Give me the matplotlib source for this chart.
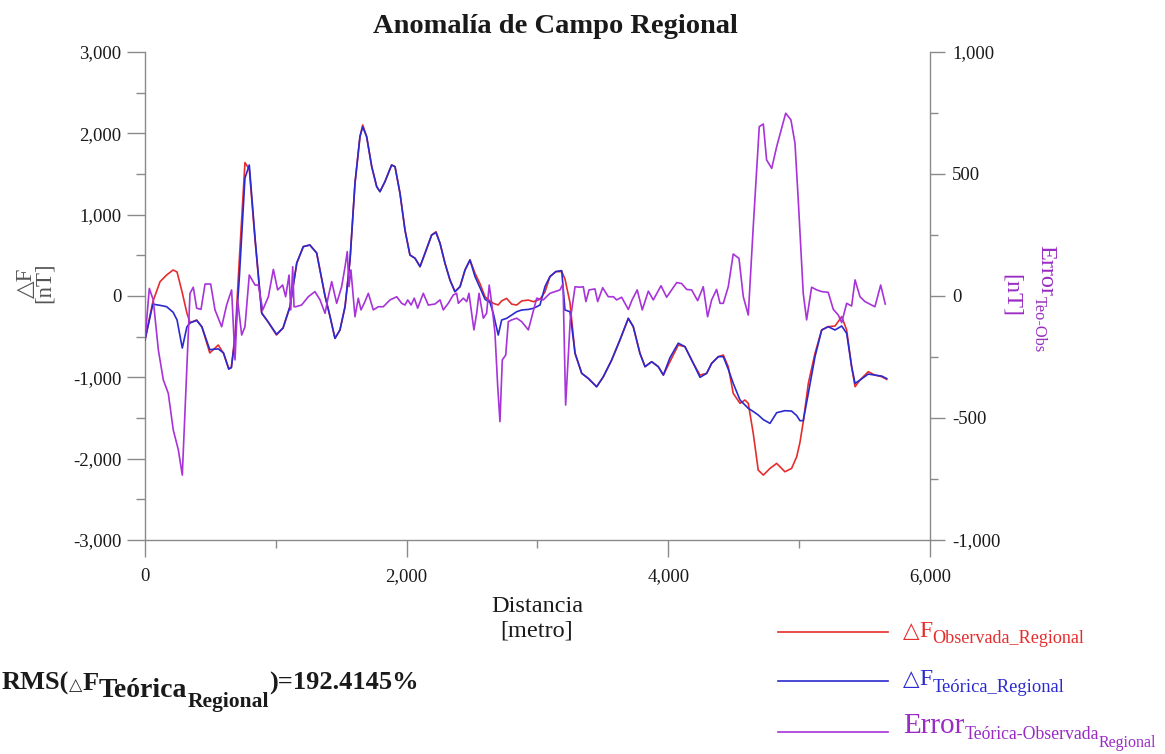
import matplotlib
matplotlib.use("Agg")
import matplotlib.pyplot as plt
from matplotlib.lines import Line2D
from matplotlib.ticker import MultipleLocator, FuncFormatter

plt.rcParams["font.family"] = ["Liberation Serif", "DejaVu Sans"]

# ---------------- data ----------------
# distance along the profile [m] for the two field curves
dist = [0, 60, 115, 165, 215, 245, 285, 320, 345, 395, 435, 495, 560, 600, 640, 660,
        690, 720, 764, 797, 841, 892, 940, 1005, 1055, 1108, 1160, 1210, 1260, 1312,
        1376, 1414, 1452, 1490, 1529, 1567, 1605, 1643, 1664, 1694, 1733, 1771, 1796,
        1834, 1885, 1911, 1949, 1987, 2025, 2064, 2102, 2140, 2191, 2224, 2255, 2293,
        2331, 2369, 2408, 2446, 2484, 2522, 2561, 2599, 2637, 2662, 2700, 2726, 2764,
        2803, 2841, 2880, 2930, 2970, 3019, 3057, 3095, 3140, 3185, 3210, 3248, 3287,
        3338, 3388, 3452, 3503, 3567, 3630, 3694, 3732, 3783, 3822, 3873, 3923, 3962,
        4012, 4076, 4127, 4191, 4242, 4293, 4331, 4382, 4420, 4458, 4496, 4548, 4586,
        4611, 4649, 4687, 4726, 4777, 4828, 4891, 4942, 4981, 5006, 5031, 5070, 5121,
        5172, 5222, 5274, 5325, 5363, 5401, 5427, 5465, 5528, 5579, 5631, 5669]

# observed regional anomaly [nT]
obs_regional = [-540, -70, 176, 258, 320, 295, 40, -210, -328, -295, -380, -700, -603,
                -705, -890, -880, -450, 420, 1640, 1560, 689, -210, -316, -480, -394,
                -131, 406, 607, 627, 529, 0, -250, -521, -418, -131, 443, 1386, 1960,
                2103, 1960, 1590, 1344, 1283, 1406, 1611, 1590, 1263, 812, 504, 464,
                361, 525, 750, 791, 648, 402, 197, 53, 115, 320, 443, 280, 150, -10,
                -60, -90, -110, -60, -30, -100, -111, -60, -50, -70, -40, 50, 238, 300,
                300, 210, -80, -705, -951, -1013, -1116, -993, -787, -541, -275, -377,
                -705, -869, -808, -869, -972, -808, -603, -623, -828, -972, -951, -828,
                -746, -726, -869, -1197, -1320, -1279, -1320, -1689, -2140, -2202,
                -2120, -2058, -2161, -2120, -1977, -1800, -1550, -1074, -705, -418,
                -377, -369, -254, -418, -869, -1115, -1033, -931, -972, -992, -1025]

# theoretical regional anomaly [nT]
teo_regional = [-540, -100, -115, -131, -200, -295, -640, -380, -330, -300, -380, -660,
                -650, -700, -900, -880, -500, 200, 1450, 1611, 720, -210, -316, -470,
                -394, -131, 406, 607, 627, 529, 0, -250, -521, -418, -131, 443, 1386,
                1960, 2080, 1960, 1590, 1344, 1283, 1406, 1611, 1590, 1263, 812, 504,
                464, 361, 525, 750, 780, 648, 402, 197, 53, 115, 320, 443, 240, 100,
                -40, -80, -213, -480, -295, -275, -234, -193, -172, -165, -151, -111,
                115, 238, 300, 312, -172, -193, -705, -951, -1013, -1116, -993, -787,
                -541, -275, -377, -705, -869, -808, -869, -972, -760, -580, -623, -828,
                -1000, -951, -828, -746, -746, -900, -1074, -1279, -1340, -1381, -1420,
                -1463, -1520, -1566, -1435, -1410, -1415, -1470, -1533, -1533, -1197,
                -746, -418, -377, -418, -369, -459, -869, -1074, -1033, -960, -972,
                -985, -1015]

# distance [m] and error (theoretical - observed) [nT]
err_dist = [0, 33, 63, 102, 140, 178, 216, 255, 285, 344, 369, 395, 428, 459, 502, 535,
            586, 624, 662, 688, 708, 739, 764, 797, 841, 866, 900, 943, 981, 1014, 1052,
            1075, 1101, 1114, 1129, 1139, 1152, 1197, 1248, 1299, 1338, 1376, 1401, 1427,
            1465, 1503, 1529, 1546, 1559, 1574, 1605, 1630, 1651, 1681, 1707, 1745, 1783,
            1821, 1873, 1924, 1962, 1987, 2008, 2034, 2058, 2084, 2127, 2165, 2216, 2255,
            2280, 2318, 2356, 2382, 2395, 2433, 2459, 2476, 2514, 2535, 2553, 2586, 2611,
            2631, 2650, 2675, 2696, 2713, 2731, 2757, 2777, 2803, 2841, 2879, 2930, 2994,
            3044, 3095, 3134, 3172, 3195, 3215, 3250, 3287, 3325, 3350, 3370, 3394, 3439,
            3460, 3498, 3541, 3580, 3605, 3643, 3694, 3723, 3762, 3801, 3847, 3885, 3944,
            3987, 4064, 4102, 4140, 4178, 4224, 4267, 4300, 4331, 4369, 4395, 4420, 4458,
            4496, 4540, 4573, 4611, 4649, 4695, 4726, 4751, 4790, 4828, 4866, 4897, 4937,
            4968, 4993, 5031, 5057, 5095, 5134, 5172, 5222, 5261, 5299, 5325, 5363, 5401,
            5427, 5465, 5503, 5579, 5623, 5658]

error_teo_obs = [-180, 31, -16, -221, -344, -399, -549, -631, -734, 11, 36, -50, -55, 49,
                 49, -57, -126, -37, 25, -262, -16, -160, -126, 86, 45, 45, -57, -3, 109,
                 25, 45, -3, 86, -57, 120, -44, -44, -37, -3, 18, -16, -71, -3, 59, -30,
                 38, 120, 182, 38, 107, -85, -9, -57, -23, 11, -57, -44, -44, -16, -3,
                 -30, -37, -16, -37, -9, -50, 11, -37, -33, -16, -57, -30, 4, 11, -30,
                 -9, -23, 11, -139, -71, 11, -91, -71, 45, -30, -153, -372, -515, -262,
                 -242, -105, -98, -91, -105, -139, -9, -16, 11, 18, 25, 50, -447, -100,
                 38, 36, 38, -23, 25, 29, -23, 34, -3, -3, -16, -5, -55, -16, 25, -57,
                 20, -16, 42, -5, 55, 51, 27, 25, -19, 38, -85, -16, 27, -30, -30, 38,
                 172, 154, -3, -78, 284, 694, 705, 558, 523, 612, 687, 749, 722, 626,
                 394, 11, -98, 36, 25, 18, 15, -55, -78, -109, -30, -41, 66, -3, -23,
                 -44, 45, -33]

RMS_VALUE = 192.4145

# ---------------- style ----------------
C_OBS = "#e52d2d"
C_TEO = "#2a2ad0"
C_ERR = "#a733d9"
C_ERR_TXT = "#9a2cc4"
C_AXIS = "#8a8a8a"
C_TXT = "#1a1a1a"
SANS_FALLBACK = ["Liberation Serif", "DejaVu Sans"]

W, H = 1165, 754
fig = plt.figure(figsize=(W / 100, H / 100), dpi=100)
fig.patch.set_facecolor("white")


def fx(x):
    return x / W


def fy(y):
    return 1 - y / H


# plot frame: x 145..930 px, y 52..540 px
ax = fig.add_axes([fx(145), fy(540), 785 / W, 488 / H])
ax2 = ax.twinx()

ax.plot(dist, obs_regional, color=C_OBS, lw=1.2, zorder=3)
ax.plot(dist, teo_regional, color=C_TEO, lw=1.2, zorder=4)
ax2.plot(err_dist, error_teo_obs, color=C_ERR, lw=1.2, zorder=5)

ax.set_xlim(0, 6000)
ax.set_ylim(-3000, 3000)
ax2.set_ylim(-1000, 1000)

comma = FuncFormatter(lambda v, _: f"{v:,.0f}")
ax.xaxis.set_major_locator(MultipleLocator(2000))
ax.xaxis.set_minor_locator(MultipleLocator(1000))
ax.yaxis.set_major_locator(MultipleLocator(1000))
ax.yaxis.set_minor_locator(MultipleLocator(500))
ax2.yaxis.set_major_locator(MultipleLocator(500))
ax2.yaxis.set_minor_locator(MultipleLocator(250))
for a in (ax.xaxis, ax.yaxis, ax2.yaxis):
    a.set_major_formatter(comma)

for s in ("top", "right"):
    ax.spines[s].set_visible(False)
for s in ("top", "left", "bottom"):
    ax2.spines[s].set_visible(False)
for sp in (ax.spines["left"], ax.spines["bottom"], ax2.spines["right"]):
    sp.set_color(C_AXIS)
    sp.set_linewidth(1.0)

ax.tick_params(axis="y", which="major", direction="out", length=13, width=1,
               color=C_AXIS, labelsize=13.5, labelcolor=C_TXT, pad=4)
ax.tick_params(axis="y", which="minor", direction="out", length=6.5, width=1,
               color=C_AXIS)
ax.tick_params(axis="x", which="major", direction="out", length=12, width=1,
               color=C_AXIS, labelsize=13.5, labelcolor=C_TXT, pad=8)
ax.tick_params(axis="x", which="minor", direction="out", length=6, width=1,
               color=C_AXIS)
ax2.tick_params(axis="y", which="major", direction="out", length=11, width=1,
                color=C_AXIS, labelsize=13.5, labelcolor=C_TXT, pad=5)
ax2.tick_params(axis="y", which="minor", direction="out", length=6, width=1,
                color=C_AXIS)

# ---------------- texts ----------------
renderer = fig.canvas.get_renderer()


def rich(x, y, pieces, rotation=0):
    """Draw consecutive text runs; each run is (text, size, shift_px, props)."""
    pos = x if rotation == 0 else y
    for text, size, shift, props in pieces:
        kw = dict(fontsize=size, va="baseline", ha="left")
        kw.update(props)
        if rotation == 0:
            t = fig.text(fx(pos), fy(y + shift), text, **kw)
            pos += t.get_window_extent(renderer).width
        else:
            t = fig.text(fx(x - shift), fy(pos), text, rotation=-90,
                         rotation_mode="anchor", **kw)
            pos += t.get_window_extent(renderer).height


fig.text(fx(555), fy(33), "Anomalía de Campo Regional", ha="center", va="baseline",
         fontsize=20.5, fontweight="bold", color=C_TXT)

fig.text(fx(537), fy(612), "Distancia", ha="center", va="baseline", fontsize=17.5,
         color=C_TXT)
fig.text(fx(537), fy(636), "[metro]", ha="center", va="baseline", fontsize=17.5,
         color=C_TXT)

# left axis title (two rotated lines in one text)
fig.text(fx(35), fy(283), "△F\n[nT]", rotation=90, ha="center", va="center",
         multialignment="center", linespacing=0.82, fontsize=16.5,
         color="#555555", family=SANS_FALLBACK)

# right axis title
fig.text(fx(1011), fy(296), "[nT]", rotation=-90, ha="center", va="center",
         fontsize=17.5, color=C_ERR_TXT)
rich(1040, 245, [("Error", 17.5, 0, dict(color=C_ERR_TXT)),
                 ("Teo-Obs", 11.8, 5, dict(color=C_ERR_TXT))], rotation=-90)

# legend
legend_rows = [
    (632, C_OBS, [("△", 15.5, 0, dict(color=C_OBS, family="DejaVu Sans")),
                  ("F", 17, 0, dict(color=C_OBS)),
                  ("Observada_Regional", 13.1, 6, dict(color=C_OBS))]),
    (681, C_TEO, [("△", 15.5, 0, dict(color=C_TEO, family="DejaVu Sans")),
                  ("F", 17, 0, dict(color=C_TEO)),
                  ("Teórica_Regional", 13.3, 7, dict(color=C_TEO))]),
    (732, C_ERR, [("Error", 21, 0, dict(color=C_ERR_TXT)),
                  ("Teórica-Observada", 12.8, 6, dict(color=C_ERR_TXT)),
                  ("Regional", 11.5, 14, dict(color=C_ERR_TXT))]),
]
for (ly, col, pieces), base in zip(legend_rows, (637, 685, 733)):
    fig.add_artist(Line2D([fx(778), fx(888)], [fy(ly), fy(ly)], color=col, lw=1.2,
                          transform=fig.transFigure))
    rich(903, base, pieces)

# RMS annotation
bold = dict(fontweight="bold", color=C_TXT)
rich(2, 690, [("RMS(", 19, 0, bold),
              ("△", 12.5, 0, dict(color="#333333", family="DejaVu Sans")),
              ("F", 19, 0, bold),
              ("Teórica", 20, 7, bold),
              ("Regional", 15.5, 17, bold),
              (f")={RMS_VALUE:.4f}%", 19, 0, bold)])

fig.savefig("out.png", dpi=100, facecolor="white")
